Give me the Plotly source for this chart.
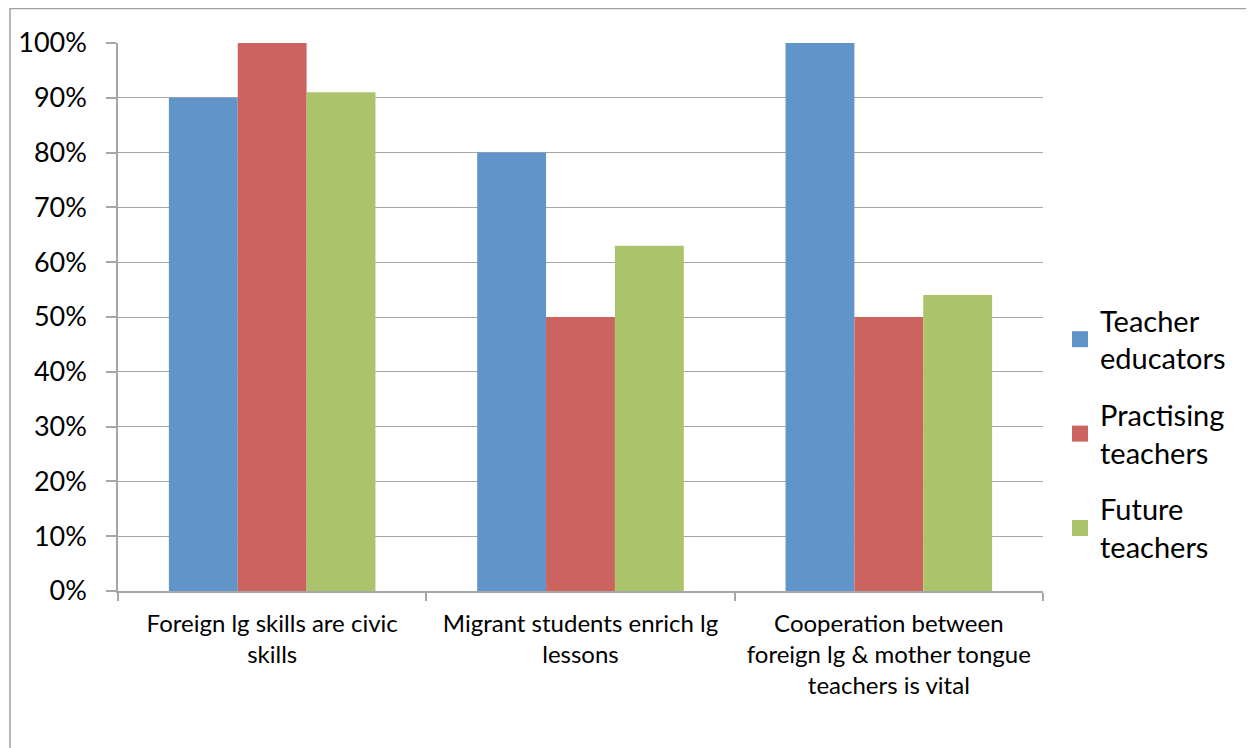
import plotly.graph_objects as go

categories = [
    "Foreign lg skills are civic<br>skills",
    "Migrant students enrich lg<br>lessons",
    "Cooperation between<br>foreign lg & mother tongue<br>teachers is vital",
]
series_names = ["Teacher<br>educators", "Practising<br>teachers", "Future<br>teachers"]
teacher_educators = [0.90, 0.80, 1.00]
practising_teachers = [1.00, 0.50, 0.50]
future_teachers = [0.91, 0.63, 0.54]
colors = ["#6195C9", "#CB635E", "#ABC46B"]

values = [teacher_educators, practising_teachers, future_teachers]

fig = go.Figure()
for i, (name, vals, col) in enumerate(zip(series_names, values, colors)):
    fig.add_trace(go.Bar(
        x=categories, y=vals, name=name, marker_color=col,
        marker_line_width=0, showlegend=False,
    ))
for i, (name, col) in enumerate(zip(series_names, colors)):
    fig.add_trace(go.Scatter(
        x=[None], y=[None], mode="markers", name=name,
        marker=dict(symbol="square", size=16, color=col),
        legendgroup=f"g{i}", showlegend=True, hoverinfo="skip",
    ))

OFF = 8  # page body margin
W, H = 1254 - OFF, 748 - OFF
L, R, T, B = 118 - OFF, 1043 - OFF, 43 - OFF, 591 - OFF
pw, ph = R - L, B - T

font = "Lato"
grid = "#A6A6A6"

fig.update_layout(
    width=W, height=H,
    margin=dict(l=L, r=W - R, t=T, b=H - B, pad=0, autoexpand=False),
    paper_bgcolor="white", plot_bgcolor="white",
    barmode="group", bargap=0.33, bargroupgap=0,
    font=dict(family=font, color="#000000"),
    showlegend=True,
    legend=dict(
        x=(1060 - OFF - L) / pw, xanchor="left",
        y=(B - (434 - OFF)) / ph, yanchor="middle",
        font=dict(size=29, family=font, color="#000"),
        traceorder="grouped", tracegroupgap=16,
        bgcolor="rgba(0,0,0,0)",
    ),
    xaxis=dict(
        type="category", automargin=False,
        showgrid=False,
        showline=True, linecolor=grid, linewidth=1.5,
        ticks="outside", tickson="boundaries", ticklen=8,
        tickcolor=grid, tickwidth=1.5,
        tickfont=dict(size=24, family=font, color="#000"),
        ticklabelstandoff=10,
    ),
    yaxis=dict(
        range=[0, 1], dtick=0.1, tick0=0, tickformat=".0%",
        automargin=False,
        showgrid=True, gridcolor=grid, gridwidth=1.2,
        showline=True, linecolor=grid, linewidth=1.5,
        ticks="outside", ticklen=10, tickcolor=grid, tickwidth=1.5,
        tickfont=dict(size=27, family=font, color="#000"),
        ticklabelstandoff=14,
        zeroline=False,
    ),
    shapes=[dict(
        type="rect", xref="paper", yref="paper",
        x0=(10 - OFF - L) / pw, x1=(W + 20 - L) / pw,
        y0=(B - (H + 20)) / ph, y1=(B - 0.5) / ph,
        line=dict(color="#A0A0A0", width=1.5), fillcolor="rgba(0,0,0,0)",
        layer="below",
    )],
)

fig.write_html("out.html")
